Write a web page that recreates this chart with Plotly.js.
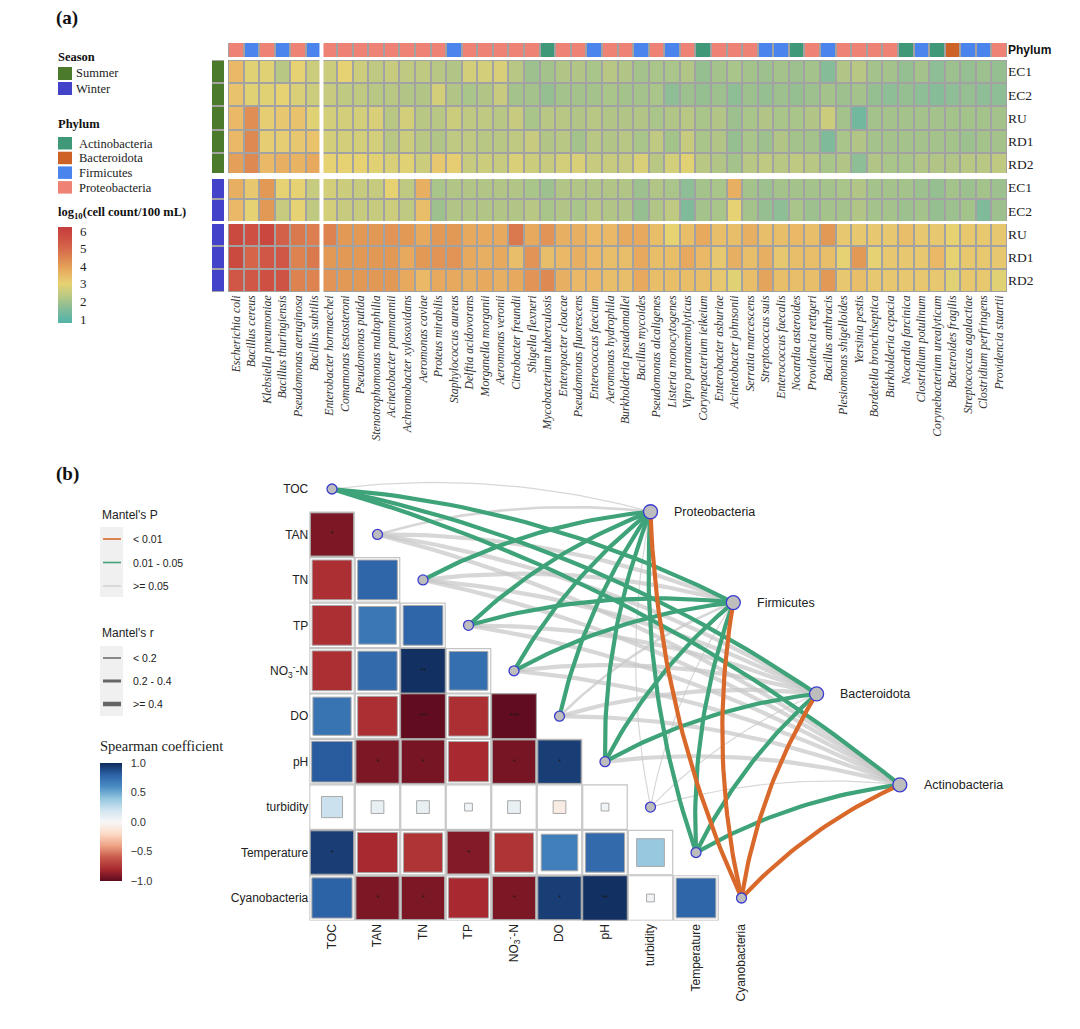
<!DOCTYPE html>
<html><head><meta charset="utf-8">
<script src="https://cdn.plot.ly/plotly-3.0.1.min.js"></script>
<style>body{margin:0;background:#fff}</style>
</head><body><div id="chart" style="width:1080px;height:1029px"></div>
<script>
// ---------------- DATA: panel (a) ----------------
const species = ['Escherichia coli','Bacillus cereus','Klebsiella pneumoniae','Bacillus thuringiensis','Pseudomonas aeruginosa','Bacillus subtilis',
'Enterobacter hormaechei','Comamonas testosteroni','Pseudomonas putida','Stenotrophomonas maltophilia','Acinetobacter pammannii','Achromobacter xylosoxidans',
'Aeromonas caviae','Proteus mirabilis','Staphylococcus aureus','Delftia acidovorans','Morganella morganii','Aeromonas veronii','Citrobacter freundii',
'Shigella flexneri','Mycobacterium tuberculosis','Enteropacter cloacae','Pseudomonas fluorescens','Enterococcus faecium','Aeromonas hydrophila',
'Burkholderia pseudomallei','Bacillus mycoides','Pseudomonas alcaligenes','Listeria monocytogenes','Vipro paranaemolyticus','Corynepacterium ieikeium',
'Enterobacter asburiae','Acinetobacter johnsonii','Serratia marcescens','Streptococcus suis','Enterococcus faecalis','Nocardia asteroides',
'Providencia rettgeri','Bacillus anthracis','Plesiomonas shigelloides','Yersinia pestis','Bordetella bronchiseptica','Burkholderia cepacia',
'Nocardia farcinica','Clostridium potulinum','Corynebacterium urealyticum','Bacteroides fragilis','Streptococcus agalactiae','Clostridium perfringens','Providencia stuartii'];
const phylumCodes = ['P','F','P','F','P','F', 'P','P','P','P','P','P','P','P','F','P','P','P','P','P','A','P','P','F','P',
'P','F','P','F','P','A','P','P','P','F','F','A','P','F','P','P','P','P','A','F','A','B','F','F','P'];
const phylumNames = ['Actinobacteria','Bacteroidota','Firmicutes','Proteobacteria'];
const phylumCodeList = ['A','B','F','P'];
const phylumColors = ['#3f9877','#cc6226','#4a84ec','#ee8275'];
const seasons = ['Summer','Winter'];
const seasonColors = ['#4a7a2a','#4343c9'];
const rowLabels = ['EC1','EC2','RU','RD1','RD2','EC1','EC2','RU','RD1','RD2'];
const rowSeason = ['Summer','Summer','Summer','Summer','Summer','Winter','Winter','Winter','Winter','Winter'];

const summerEC1 = [3.5,2.9,2.9,2.3,3.0,2.6, 2.6,3.0,2.6,2.4,2.5,2.4,2.4,2.3,2.2,2.7,2.7,2.8,2.3,1.9,2.0,2.2,2.2,2.1,2.3, 2.2,2.0,2.1,2.1,2.2,1.8,2.0,2.1,2.0,1.9,2.0,1.9,2.0,1.6,2.2,2.3,2.0,2.0,1.8,2.0,1.7,1.9,1.8,1.9,1.8];
const summerEC2 = [3.3,2.9,2.9,3.0,2.8,2.6, 2.5,2.4,2.4,2.3,2.3,2.2,2.2,2.7,2.2,2.1,2.2,2.5,2.0,2.0,1.8,2.0,2.0,2.0,2.1, 2.0,2.0,2.1,1.7,1.9,1.8,1.9,1.7,1.9,1.8,1.9,1.8,1.9,2.0,1.9,2.0,1.8,1.7,1.8,1.7,1.6,1.7,1.8,1.7,1.7];
const summerRU  = [3.5,4.3,3.1,3.2,3.3,2.9, 2.7,2.7,2.7,2.8,2.3,2.7,2.3,2.3,2.6,2.4,2.4,2.3,2.5,2.1,2.3,2.3,2.2,2.3,2.2, 2.2,2.2,2.1,2.2,2.3,2.1,2.2,1.9,2.1,2.2,2.1,2.1,2.2,2.6,2.0,1.3,2.0,2.0,2.0,2.0,2.0,2.0,2.0,2.0,2.0];
const summerRD1 = [3.5,4.4,3.1,3.1,3.2,3.3, 2.7,2.7,2.7,2.7,2.3,2.6,2.3,2.2,2.4,2.4,2.3,2.3,2.4,2.5,2.2,2.3,2.0,2.3,2.2, 2.3,2.1,2.4,2.0,2.5,2.1,2.2,1.8,2.1,1.9,2.2,2.0,2.0,1.5,2.1,2.2,2.0,2.0,2.0,2.0,2.0,2.0,1.9,2.0,2.0];
const summerRD2 = [4.0,4.4,3.5,3.7,3.6,3.8, 3.0,3.0,3.0,2.9,2.8,2.9,2.6,3.2,3.1,2.5,2.6,2.5,2.8,2.6,2.5,2.7,2.8,2.5,2.5, 2.5,2.8,2.3,2.7,2.9,2.3,2.2,2.0,2.3,2.4,2.3,2.4,2.3,2.1,2.2,1.7,2.2,2.1,2.1,2.2,2.2,2.2,2.3,2.3,2.4];
const winterEC1 = [3.7,3.2,4.1,3.0,3.0,2.5, 2.7,2.6,2.5,2.5,3.0,2.4,3.7,2.1,2.2,2.2,2.2,2.2,2.2,2.1,1.9,2.2,2.2,2.2,2.2, 2.2,1.9,2.2,2.1,1.7,2.0,2.1,3.7,2.0,1.9,2.0,2.0,2.0,2.0,2.1,2.2,2.0,2.0,2.0,1.9,1.8,2.0,1.9,2.0,1.9];
const winterEC2 = [3.5,3.0,4.1,2.5,3.0,2.4, 2.7,2.5,2.5,2.5,2.6,2.4,3.4,1.9,2.2,2.2,2.2,2.2,2.2,2.3,2.1,2.2,2.1,2.3,2.2, 2.2,1.8,2.2,2.4,1.5,2.0,2.1,3.0,2.0,1.8,1.7,2.1,1.9,2.0,2.0,2.2,2.0,2.0,1.9,2.0,1.8,1.9,2.0,1.5,1.9];
const winterRU  = [5.8,5.6,5.9,5.2,4.7,4.6, 4.5,4.1,4.1,4.1,4.2,4.1,3.8,4.1,4.1,3.8,3.8,3.8,4.7,3.8,4.2,3.7,3.7,3.5,3.5, 3.8,3.8,3.4,3.0,3.4,3.8,3.4,3.4,3.7,3.4,3.4,3.5,3.4,4.1,3.2,3.2,3.2,3.2,3.4,3.2,3.2,3.0,3.2,3.2,3.2];
const winterRD1 = [5.8,5.1,5.4,5.4,4.5,4.7, 4.1,4.1,4.1,4.1,4.1,3.8,4.1,4.2,4.2,3.8,3.7,3.8,3.4,4.2,3.4,3.5,3.7,3.5,3.4, 3.4,3.8,3.4,3.4,3.8,3.5,3.2,3.7,3.4,3.7,3.2,3.4,3.4,3.4,3.0,4.1,3.0,3.2,3.2,3.2,3.5,3.0,3.2,3.2,3.2];
const winterRD2 = [5.4,5.4,5.6,5.5,4.5,4.5, 4.2,4.1,4.1,4.1,4.1,3.8,3.5,3.8,3.8,3.7,3.8,3.7,3.8,4.2,4.4,3.7,3.5,3.5,3.4, 3.4,3.8,3.4,3.4,3.4,3.4,3.2,2.9,3.4,3.9,3.4,3.4,3.4,4.1,3.2,3.4,3.2,3.2,3.2,3.2,3.2,2.9,3.2,3.2,2.9];
const abundanceTicks = [1,2,3,4,5,6];

// ---------------- DATA: panel (b) ----------------
const envVars = ['TOC','TAN','TN','TP','NO<sub>3</sub><sup>-</sup>-N','DO','pH','turbidity','Temperature','Cyanobacteria'];
const spearmanR = [
 [],
 [-0.92],
 [-0.78, 0.78],
 [-0.78, 0.70, 0.78],
 [-0.78, 0.76, 0.98, 0.74],
 [0.72, -0.78, -0.99, -0.78, -0.99],
 [0.82, -0.92, -0.93, -0.80, -0.93, 0.93],
 [0.22, 0.08, 0.08, 0.03, 0.08, -0.08, 0.03],
 [0.93, -0.80, -0.76, -0.90, -0.76, 0.66, 0.76, 0.38],
 [0.80, -0.92, -0.92, -0.80, -0.92, 0.93, 0.98, 0.03, 0.78]
];
const spearmanSig = [
 [],
 ['*'],
 ['',''],
 ['','',''],
 ['','','**',''],
 ['','','***','','***'],
 ['','*','*','','*','*'],
 ['','','','','','',''],
 ['*','','','*','','','',''],
 ['','*','*','','*','*','**','','']
];
const phyla = ['Proteobacteria','Firmicutes','Bacteroidota','Actinobacteria'];
const mantelRProteobacteria = [0.15,0.32,0.45,0.46,0.47,0.45,0.48,0.08,0.47,0.55];
const mantelPProteobacteria = [0.21,0.09,0.02,0.02,0.02,0.03,0.02,0.55,0.02,0.004];
const mantelRFirmicutes     = [0.44,0.41,0.42,0.45,0.46,0.36,0.47,0.07,0.48,0.56];
const mantelPFirmicutes     = [0.03,0.08,0.07,0.03,0.02,0.07,0.02,0.60,0.02,0.003];
const mantelRBacteroidota   = [0.42,0.41,0.42,0.41,0.42,0.40,0.46,0.06,0.47,0.55];
const mantelPBacteroidota   = [0.04,0.08,0.07,0.08,0.07,0.06,0.02,0.62,0.03,0.005];
const mantelRActinobacteria = [0.41,0.40,0.42,0.42,0.42,0.41,0.43,0.05,0.46,0.52];
const mantelPActinobacteria = [0.04,0.09,0.08,0.08,0.08,0.07,0.06,0.65,0.03,0.006];
const mantelPLabels = ['< 0.01','0.01 - 0.05','>= 0.05'];
const mantelRLabels = ['< 0.2','0.2 - 0.4','>= 0.4'];
const spearmanTicks = [-1,-0.5,0,0.5,1];

// ---------------- LAYOUT HELPERS ----------------
const W = 1080, H = 1029;
const X = p => p / W, Y = p => 1 - p / H;
const SERIF = 'Liberation Serif, Times New Roman, serif';
const SANS = 'Liberation Sans, Arial, sans-serif';
// phylum node positions in panel-b axis units (layout)
const phylaNodeX = [7.0, 8.82, 10.65, 12.48];
const phylaNodeY = [0.5, 2.5, 4.51, 6.51];

const abundanceRows = [summerEC1,summerEC2,summerRU,summerRD1,summerRD2,winterEC1,winterEC2,winterRU,winterRD1,winterRD2];
const rowIdx = rowLabels.map((_, i) => i);

const zMin = 0.77, zMax = 6.23;
const stops = [[0.77,'#55b2a6'],[1,'#5db6a5'],[1.5,'#7fba9b'],[2,'#a3c38b'],[2.5,'#c6cb7f'],[3,'#e6d273'],[3.5,'#e9b967'],[4,'#e49f58'],[4.5,'#dd8350'],[5,'#d6684a'],[5.5,'#cf5344'],[6,'#c9443e'],[6.23,'#c43d3b']];
const abundanceScale = stops.map(s => [(s[0]-zMin)/(zMax-zMin), s[1]]);

const rdbu = [[0,'#5e0a1e'],[0.1,'#a82a30'],[0.2,'#c85a4c'],[0.3,'#eea385'],[0.4,'#fcdbc7'],[0.5,'#f7f7f7'],[0.6,'#d1e5f0'],[0.7,'#92c5de'],[0.8,'#4a8cc4'],[0.9,'#2c62a6'],[1,'#0f2a5a']];

const traces = [];
traces.push({type:'heatmap', x:species, y:rowIdx, z:abundanceRows, xaxis:'x', yaxis:'y',
  colorscale:abundanceScale, zmin:zMin, zmax:zMax, xgap:2, ygap:2, hoverinfo:'skip',
  colorbar:{x:X(58), xanchor:'left', xpad:0, ypad:0, y:Y(275), yanchor:'middle', len:96, lenmode:'pixels',
    thickness:14, outlinewidth:0, tickvals:abundanceTicks, ticks:'outside', ticklen:6, tickcolor:'rgba(0,0,0,0)',
    tickfont:{family:SERIF, size:13, color:'#222'}}});
traces.push({type:'heatmap', x:species, y:[0], z:[phylumCodes.map(c => phylumCodeList.indexOf(c))], xaxis:'x', yaxis:'y2',
  colorscale:[[0,phylumColors[0]],[0.25,phylumColors[0]],[0.25,phylumColors[1]],[0.5,phylumColors[1]],[0.5,phylumColors[2]],[0.75,phylumColors[2]],[0.75,phylumColors[3]],[1,phylumColors[3]]],
  zmin:-0.5, zmax:3.5, xgap:2, showscale:false, hoverinfo:'skip'});
traces.push({type:'heatmap', x:[0], y:rowIdx, z:rowSeason.map(s => [seasons.indexOf(s)]), xaxis:'x2', yaxis:'y',
  colorscale:[[0,seasonColors[0]],[0.5,seasonColors[0]],[0.5,seasonColors[1]],[1,seasonColors[1]]],
  zmin:0, zmax:1, ygap:2, showscale:false, hoverinfo:'skip'});

// ---------- panel b: correlation cells ----------
const bgX=[], bgY=[], sqX=[], sqY=[], sqC=[], sqS=[], stX=[], stY=[], stT=[];
spearmanR.forEach((row, i) => row.forEach((r, j) => {
  bgX.push(j); bgY.push(i);
  sqX.push(j); sqY.push(i); sqC.push(r); sqS.push(45 * Math.sqrt(Math.abs(r)));
  if (spearmanSig[i][j]) { stX.push(j); stY.push(i); stT.push(spearmanSig[i][j]); }
}));
traces.push({type:'scatter', mode:'markers', x:bgX, y:bgY, xaxis:'x3', yaxis:'y3', hoverinfo:'skip',
  marker:{symbol:'square', size:44.5, opacity:1, color:'#ffffff', line:{color:'#c4c4c4', width:1.2}}});
traces.push({type:'scatter', mode:'markers', x:sqX, y:sqY, xaxis:'x3', yaxis:'y3', hoverinfo:'skip',
  marker:{symbol:'square', size:sqS, opacity:1, color:sqC, colorscale:rdbu, cmin:-1, cmax:1, line:{color:'#a8a8a8', width:1},
    showscale:true, colorbar:{x:X(100), xanchor:'left', xpad:0, ypad:0, y:Y(822), yanchor:'middle', len:118, lenmode:'pixels',
      thickness:22, outlinewidth:0, tickvals:spearmanTicks, tickformat:'.1f', ticks:'outside', ticklen:7, tickcolor:'rgba(0,0,0,0)',
      tickfont:{family:SANS, size:11, color:'#333'}}}});
traces.push({type:'scatter', mode:'text', x:stX, y:stY, text:stT, xaxis:'x3', yaxis:'y3', hoverinfo:'skip',
  textfont:{family:SANS, size:8, color:'#1a1a1a'}, textposition:'middle center'});

// ---------- panel b: mantel links ----------
const mantelR = [mantelRProteobacteria, mantelRFirmicutes, mantelRBacteroidota, mantelRActinobacteria];
const mantelP = [mantelPProteobacteria, mantelPFirmicutes, mantelPBacteroidota, mantelPActinobacteria];
const pColors = ['#d9692b','#3fa37a','rgba(200,200,200,0.72)'];
const rWidths = [1.2, 2.6, 4.2];
const groups = {};
function curve(x0,y0,x1,y1,c){
  const dx=x1-x0, dy=y1-y0, cx=(x0+x1)/2 + c*dy, cy=(y0+y1)/2 - c*dx;
  const xs=[], ys=[];
  for (let s=0; s<=32; s++){ const t=s/32;
    xs.push((1-t)*(1-t)*x0 + 2*(1-t)*t*cx + t*t*x1);
    ys.push((1-t)*(1-t)*y0 + 2*(1-t)*t*cy + t*t*y1); }
  return [xs, ys];
}
envVars.forEach((e, i) => phyla.forEach((p, k) => {
  const pv = mantelP[k][i], rv = mantelR[k][i];
  const pc = pv < 0.01 ? 0 : (pv < 0.05 ? 1 : 2);
  const rc = rv < 0.2 ? 0 : (rv < 0.4 ? 1 : 2);
  const key = pc + '_' + rc;
  if (!groups[key]) groups[key] = {pc, rc, x:[], y:[]};
  const [xs, ys] = curve(i, i, phylaNodeX[k], phylaNodeY[k], 0.1);
  groups[key].x.push(...xs, null); groups[key].y.push(...ys, null);
}));
Object.values(groups).sort((a,b) => (b.pc - a.pc) || (a.rc - b.rc)).forEach(g => {
  traces.push({type:'scatter', mode:'lines', x:g.x, y:g.y, xaxis:'x3', yaxis:'y3', hoverinfo:'skip',
    line:{color:pColors[g.pc], width:rWidths[g.rc]}});
});
traces.push({type:'scatter', mode:'markers', x:rowIdx, y:rowIdx, xaxis:'x3', yaxis:'y3', hoverinfo:'skip',
  marker:{symbol:'circle', size:10, opacity:1, color:'#bdbdbd', line:{color:'#3b3bd0', width:1.3}}});
traces.push({type:'scatter', mode:'markers', x:phylaNodeX, y:phylaNodeY, xaxis:'x3', yaxis:'y3', hoverinfo:'skip',
  marker:{symbol:'circle', size:14, opacity:1, color:'#bdbdbd', line:{color:'#3b3bd0', width:1.3}}});

// ---------- annotations & shapes ----------
const ann = [];
const shapes = [];
const txt = (x, y, text, font, xanchor='left') => ann.push({xref:'paper', yref:'paper', x:X(x), y:Y(y), text, showarrow:false, xanchor, yanchor:'middle', font});
txt(54, 18, '<b>(a)</b>', {family:SERIF, size:19, color:'#111'});
txt(54, 474, '<b>(b)</b>', {family:SERIF, size:19, color:'#111'});
txt(56, 57, '<b>Season</b>', {family:SERIF, size:12.5, color:'#111'});
seasons.forEach((s, i) => {
  shapes.push({type:'rect', xref:'paper', yref:'paper', x0:X(58), x1:X(72), y0:Y(67+i*15), y1:Y(80+i*15), fillcolor:seasonColors[i], line:{width:0}});
  txt(74, 73.5+i*15, s, {family:SERIF, size:12.5, color:'#222'});
});
txt(56, 124, '<b>Phylum</b>', {family:SERIF, size:12.5, color:'#111'});
phylumNames.forEach((s, i) => {
  shapes.push({type:'rect', xref:'paper', yref:'paper', x0:X(58), x1:X(72), y0:Y(137+i*14.7), y1:Y(149.5+i*14.7), fillcolor:phylumColors[i], line:{width:0}});
  txt(77, 143.5+i*14.7, s, {family:SERIF, size:12.5, color:'#222'});
});
txt(56, 213, '<b>log<sub>10</sub>(cell count/100 mL)</b>', {family:SERIF, size:12.5, color:'#111'});

txt(100, 515, "Mantel's P", {family:SANS, size:12, color:'#222'});
shapes.push({type:'rect', xref:'paper', yref:'paper', x0:X(100), x1:X(123), y0:Y(527), y1:Y(597), fillcolor:'#f0f0f0', line:{width:0}});
mantelPLabels.forEach((l, i) => {
  shapes.push({type:'line', xref:'paper', yref:'paper', x0:X(103), x1:X(121), y0:Y(539+i*23.5), y1:Y(539+i*23.5), line:{color:pColors[i], width:1.6}});
  txt(131, 539+i*23.5, l, {family:SANS, size:10.5, color:'#222'});
});
txt(100, 633, "Mantel's r", {family:SANS, size:12, color:'#222'});
shapes.push({type:'rect', xref:'paper', yref:'paper', x0:X(100), x1:X(123), y0:Y(646), y1:Y(716), fillcolor:'#f0f0f0', line:{width:0}});
mantelRLabels.forEach((l, i) => {
  shapes.push({type:'line', xref:'paper', yref:'paper', x0:X(103), x1:X(121), y0:Y(658+i*23), y1:Y(658+i*23), line:{color:'#666666', width:[1.5,3,4.5][i]}});
  txt(131, 658+i*23, l, {family:SANS, size:10.5, color:'#222'});
});
txt(98, 746, 'Spearman coefficient', {family:SERIF, size:14.5, color:'#222'});
phyla.forEach((p, k) => ann.push({xref:'x3', yref:'y3', x:phylaNodeX[k]+0.48, y:phylaNodeY[k], text:p, showarrow:false, xanchor:'left', yanchor:'middle', font:{family:SANS, size:12.5, color:'#222'}}));

shapes.push({type:'rect', xref:'x domain', yref:'y domain', x0:0, x1:1, y0:0, y1:1, fillcolor:'#a2a2a2', line:{width:0}, layer:'below'});
shapes.push({type:'rect', xref:'x domain', yref:'y2 domain', x0:0, x1:1, y0:0, y1:1, fillcolor:'#a2a2a2', line:{width:0}, layer:'below'});
shapes.push({type:'rect', xref:'x2 domain', yref:'y domain', x0:0, x1:1, y0:0, y1:1, fillcolor:'#a2a2a2', line:{width:0}, layer:'below'});
shapes.push({type:'line', xref:'x', yref:'paper', x0:5.5, x1:5.5, y0:Y(293), y1:Y(42), line:{color:'#ffffff', width:4}});
shapes.push({type:'line', xref:'paper', yref:'y', x0:X(209), x1:X(1009), y0:4.5, y1:4.5, line:{color:'#ffffff', width:6}});
shapes.push({type:'line', xref:'paper', yref:'y', x0:X(209), x1:X(1009), y0:6.5, y1:6.5, line:{color:'#ffffff', width:3}});

const layout = {
  width:W, height:H, margin:{l:0, r:0, t:0, b:0, autoexpand:false},
  paper_bgcolor:'#ffffff', plot_bgcolor:'rgba(0,0,0,0)', showlegend:false, hovermode:false,
  xaxis:{domain:[X(228), X(1007)], anchor:'y', type:'category', showgrid:false, zeroline:false, ticks:'', tickangle:-90,
    tickfont:{family:SERIF, size:11.8, style:'italic', color:'#333'}},
  yaxis:{domain:[Y(292), Y(60)], anchor:'x', range:[9.5,-0.5], side:'right', tickvals:rowIdx, ticktext:rowLabels,
    showgrid:false, zeroline:false, ticks:'', tickfont:{family:SERIF, size:13.5, color:'#222'}},
  yaxis2:{domain:[Y(57), Y(43)], anchor:'x', range:[0.5,-0.5], side:'right', tickvals:[0], ticktext:['<b>Phylum</b>'],
    showgrid:false, zeroline:false, ticks:'', tickfont:{family:SANS, size:12, color:'#111'}},
  xaxis2:{domain:[X(212), X(224)], anchor:'y', range:[-0.5,0.5], showgrid:false, zeroline:false, showticklabels:false, ticks:''},
  xaxis3:{domain:[X(309.25), X(1037.25)], anchor:'y3', range:[-0.5,15.5], tickvals:rowIdx, ticktext:envVars, tickangle:-90,
    showgrid:false, zeroline:false, ticks:'', tickfont:{family:SANS, size:12, color:'#222'}},
  yaxis3:{domain:[Y(920.7), Y(466.3)], anchor:'x3', range:[9.5,-0.5], tickvals:rowIdx, ticktext:envVars,
    showgrid:false, zeroline:false, ticks:'', tickfont:{family:SANS, size:12, color:'#222'}},
  annotations:ann, shapes:shapes
};
Plotly.newPlot('chart', traces, layout, {displayModeBar:false, staticPlot:true});
</script></body></html>
